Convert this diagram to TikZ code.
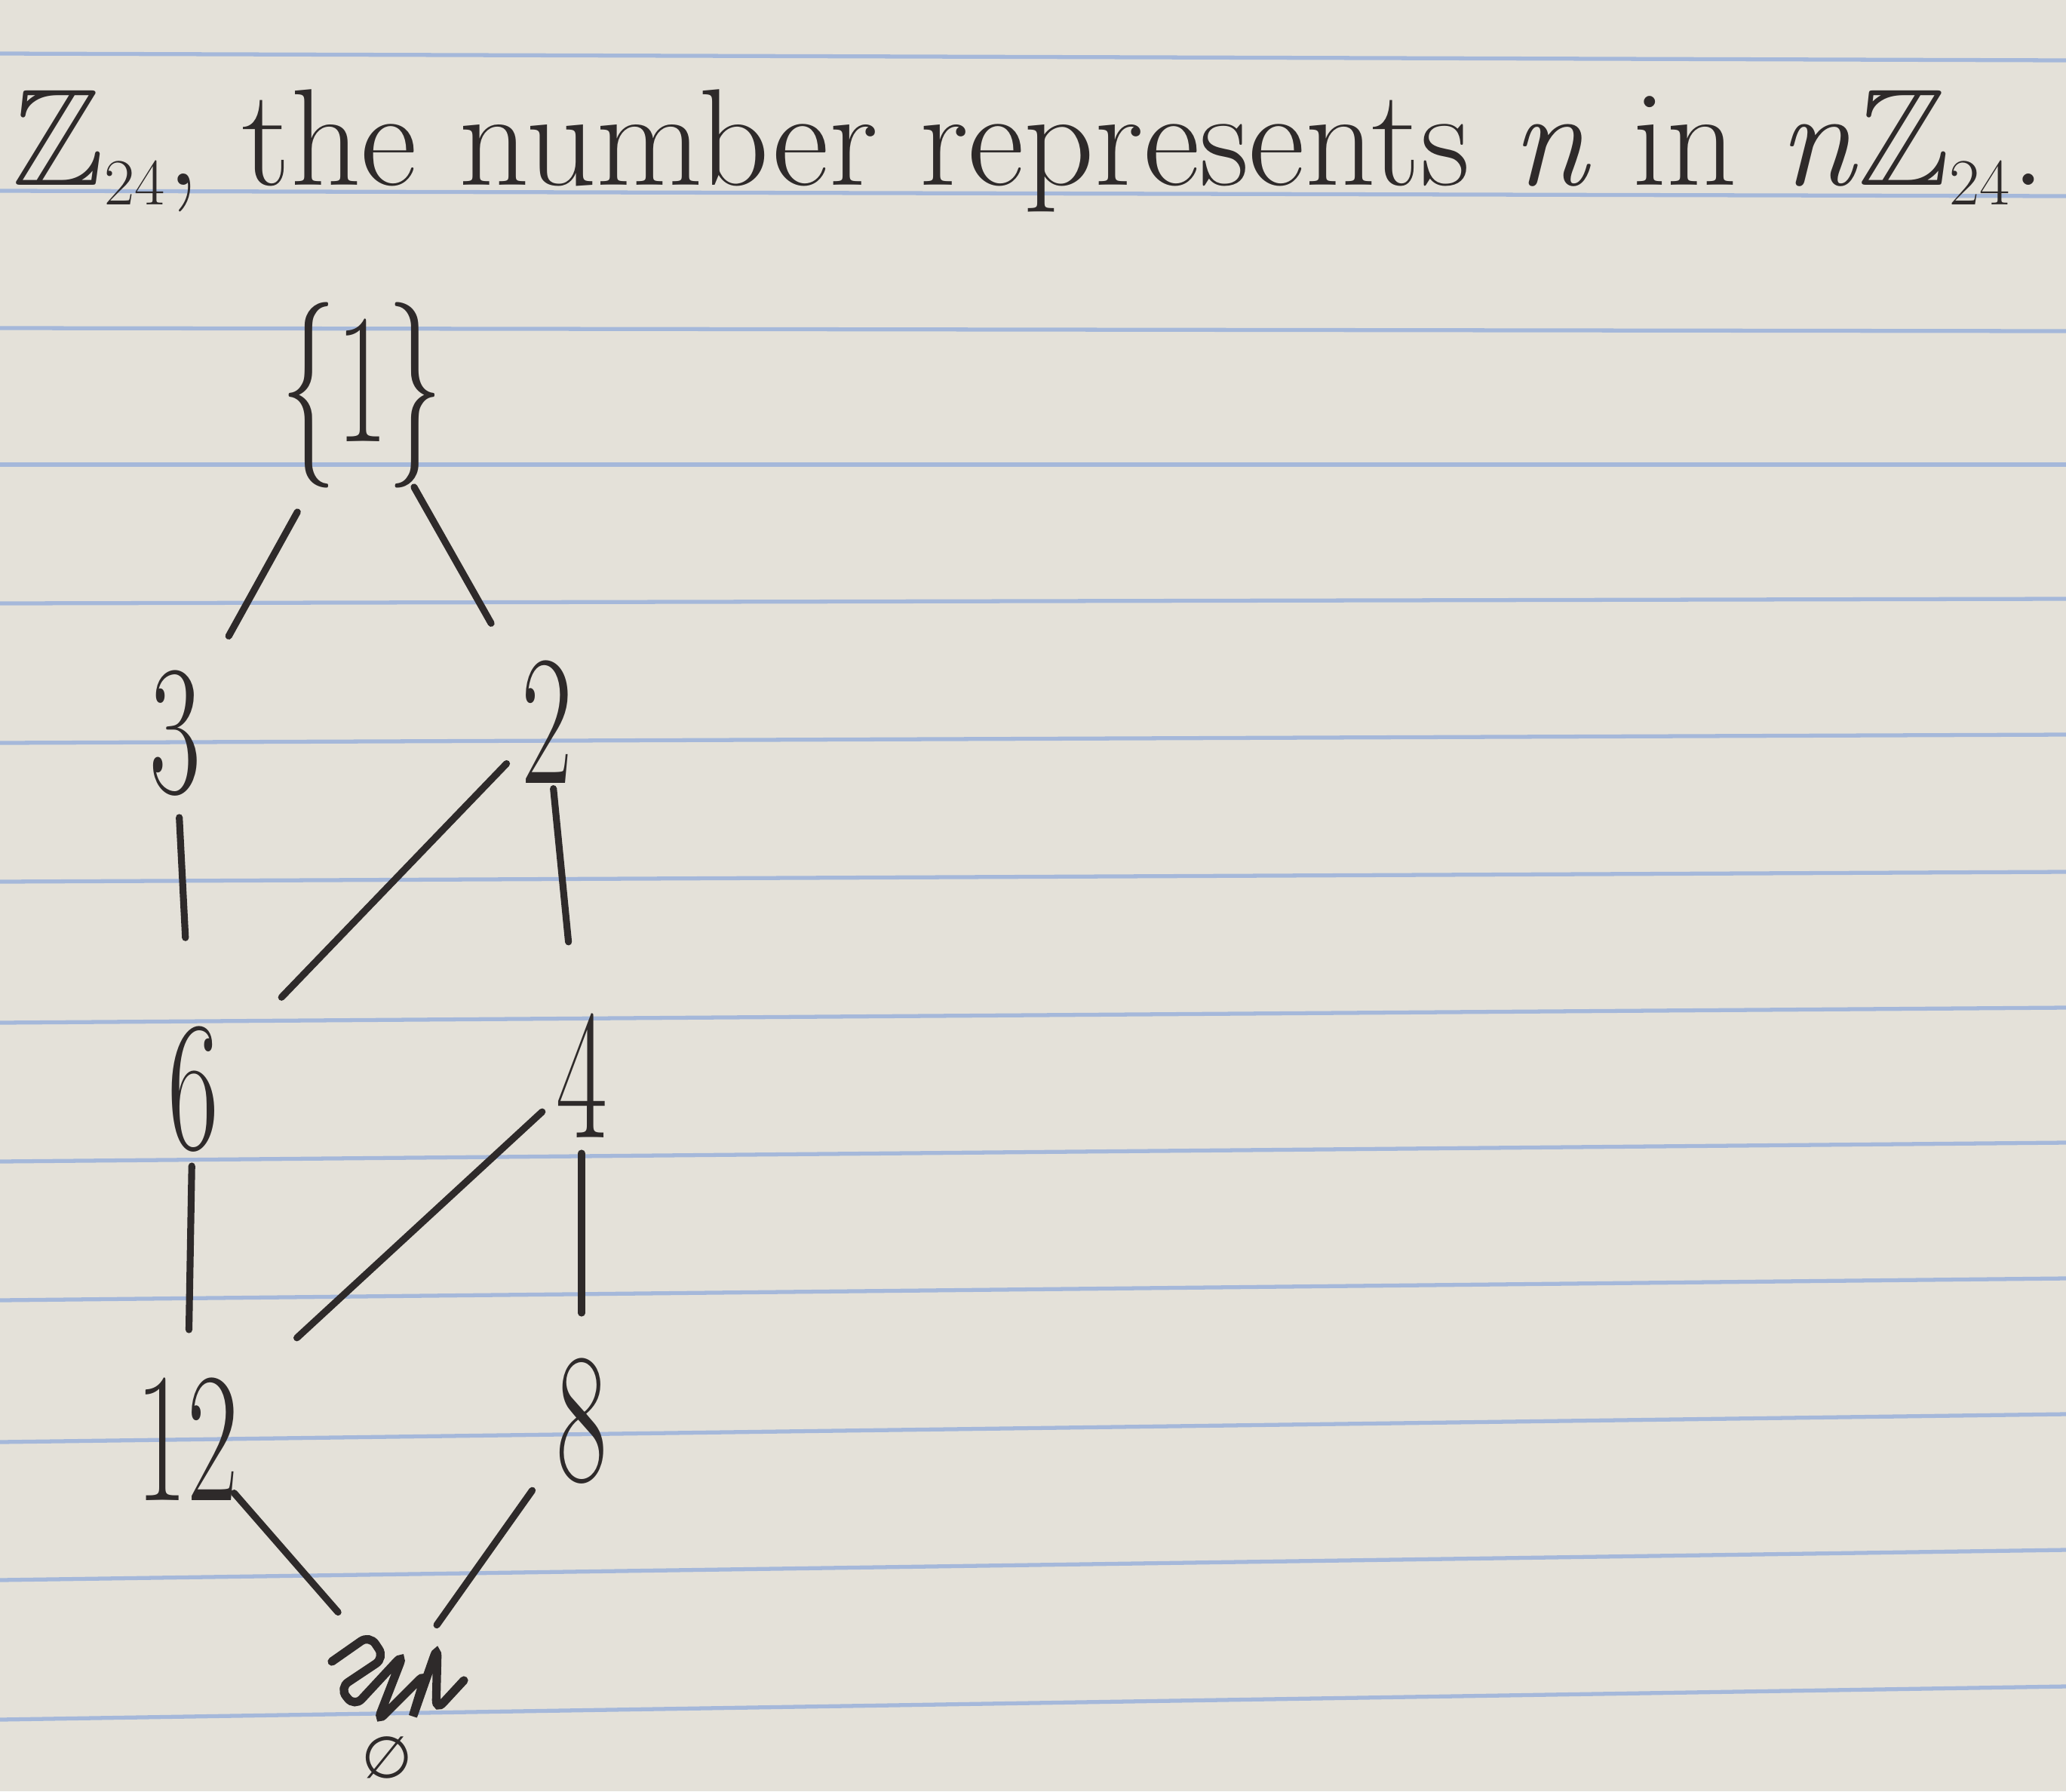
\documentclass[tikz,border=0pt]{standalone}
\usepackage{amsmath}
\usepackage{amssymb}
\usepackage{fontspec}
\usepackage{xcolor}
\usetikzlibrary{positioning}
\newfontfamily\symfont{DejaVu Sans}
\definecolor{paper}{RGB}{228,225,217}
\definecolor{ruling}{RGB}{165,184,218}
\definecolor{ink}{RGB}{46,42,42}

\begin{document}
\begin{tikzpicture}[-,line width=2.6pt,color=ink,line cap=round,
    num/.style={font=\fontsize{70}{80}\selectfont,xscale=0.6,transform shape,inner sep=0pt}]
    \useasboundingbox (0,0) rectangle (27.39,-23.75);
    \fill[paper] (0,0) rectangle (27.39,-23.75);
    % ruled paper
    \foreach \yl/\yr in {0.71/0.80,2.53/2.60,4.35/4.39,6.16/6.16,8.00/7.94,9.85/9.74,11.69/11.56,13.56/13.36,15.40/15.15,17.24/16.95,19.12/18.75,20.95/20.55,22.80/22.36}
        \draw[ruling,line width=1.5pt] (0,-\yl) -- (27.39,-\yr);

    \node (title) [anchor=base west,font=\fontsize{52}{58}\selectfont] at (0,-2.45)
        {$\mathbb{Z}_{24}$, the number represents \textit{n} in \textit{n}$\mathbb{Z}_{24}$.};

    \node (n1) [num] at (4.80,-5.24) {\{1\}};
    \node (n3) [below of=n1, node distance=4.48cm, xshift=-2.48cm, num] {3};
    \node (n2) [below of=n1, node distance=4.33cm, xshift=2.45cm, num] {2};
    \node (n6) [below of=n3, node distance=4.72cm, xshift=0.24cm, num] {6};
    \node (n4) [below of=n2, node distance=4.69cm, xshift=0.46cm, num] {4};
    \node (n12) [below of=n6, node distance=4.64cm, xshift=-0.08cm, num] {12};
    \node (n8) [below of=n4, node distance=4.58cm, num] {8};
    \node (n24) [below of=n12, node distance=3.20cm, xshift=2.79cm, minimum width=1.8cm, minimum height=1.3cm] {};
    \node (n0) [anchor=south, font=\symfont\fontsize{22}{26}\selectfont, inner sep=2pt] at (5.13,-23.70) {∅};

    \draw[rounded corners=4pt,line width=3.2pt,shift={(n24)}] (-0.87,0.25) -- (-0.37,0.60) -- (-0.17,0.30) -- (-0.77,-0.10)
        -- (-0.57,-0.35) -- (0.08,0.35) -- (-0.27,-0.55) -- (0.38,0.10) -- (0.18,-0.55)
        -- (0.53,0.45) -- (0.51,-0.40) -- (0.88,0.00);

    \path (n1.center) edge[shorten <=1.77cm, shorten >=1.47cm] (n3.center)
          (n1.center) edge[shorten <=1.40cm, shorten >=1.50cm] (n2.center)
          (n3.center) edge[shorten <=1.12cm, shorten >=2.01cm] (n6.center)
          (n2.center) edge[shorten <=0.77cm, shorten >=1.69cm] (n6.center)
          (n2.center) edge[shorten <=0.89cm, shorten >=1.78cm] (n4.center)
          (n6.center) edge[shorten <=1.02cm, shorten >=1.45cm] (n12.center)
          (n4.center) edge[shorten <=0.71cm, shorten >=1.98cm] (n12.center)
          (n4.center) edge[shorten <=1.03cm, shorten >=1.43cm] (n8.center)
          (n12.center) edge[shorten <=0.95cm, shorten >=1.20cm] (n24.center)
          (n8.center) edge[shorten <=1.13cm, shorten >=0.90cm] (n24.center);
\end{tikzpicture}
\end{document}
